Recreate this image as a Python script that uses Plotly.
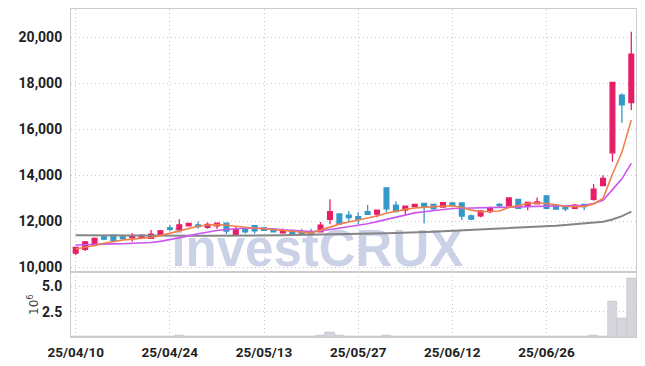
import plotly.graph_objects as go

dates = ["25/04/10", "25/04/11", "25/04/14", "25/04/15", "25/04/16", "25/04/17", "25/04/18",
         "25/04/21", "25/04/22", "25/04/23", "25/04/24", "25/04/25", "25/04/28", "25/04/29",
         "25/04/30", "25/05/02", "25/05/07", "25/05/08", "25/05/09", "25/05/12", "25/05/13",
         "25/05/14", "25/05/15", "25/05/16", "25/05/19", "25/05/20", "25/05/21", "25/05/22",
         "25/05/23", "25/05/26", "25/05/27", "25/05/28", "25/05/29", "25/05/30", "25/06/02",
         "25/06/04", "25/06/05", "25/06/09", "25/06/10", "25/06/11", "25/06/12", "25/06/13",
         "25/06/16", "25/06/17", "25/06/18", "25/06/19", "25/06/20", "25/06/23", "25/06/24",
         "25/06/25", "25/06/26", "25/06/27", "25/06/30", "25/07/01", "25/07/02", "25/07/03",
         "25/07/04", "25/07/07", "25/07/08", "25/07/09"]

open_ = [10620, 10780, 10970, 11330, 11400, 11320, 11290, 11300, 11260, 11435,
         11720, 11650, 11800, 11850, 11740, 11810, 11920, 11435, 11640, 11810,
         11720, 11660, 11500, 11610, 11530, 11530, 11550, 12090, 12320, 12270,
         12200, 12420, 12320, 13460, 12710, 12490, 12640, 12780, 12740, 12620,
         12800, 12800, 12240, 12240, 12420, 12740, 12670, 12950, 12680, 12760,
         13110, 12710, 12680, 12570, 12740, 12960, 13550, 14980, 17490, 17160]
high = [10900, 11150, 11300, 11380, 11420, 11360, 11500, 11440, 11620, 11620,
        11850, 12090, 11930, 11990, 11950, 11930, 11930, 11800, 11660, 11830,
        11740, 11690, 11690, 11620, 11680, 11680, 11970, 12960, 12330, 12450,
        12400, 12710, 12500, 13470, 12870, 12670, 12750, 12800, 12760, 12820,
        12820, 12810, 12300, 12470, 12650, 12800, 13030, 12960, 12830, 13040,
        13120, 12720, 12690, 12750, 12760, 13620, 14000, 18040, 17560, 20240]
low = [10540, 10710, 10920, 11180, 11140, 11200, 11110, 11260, 11240, 11420,
       11560, 11560, 11780, 11680, 11680, 11680, 11450, 11420, 11470, 11470,
       11600, 11520, 11460, 11360, 11420, 11390, 11530, 11880, 11880, 11980,
       11880, 12300, 12180, 12400, 12410, 12310, 12600, 11910, 12500, 12600,
       12640, 12060, 12060, 12180, 12350, 12630, 12660, 12560, 12480, 12740,
       12540, 12520, 12440, 12540, 12480, 12900, 13540, 14590, 16290, 16840]
close = [10870, 11110, 11260, 11230, 11150, 11250, 11360, 11390, 11450, 11590,
         11650, 11850, 11910, 11770, 11870, 11920, 11580, 11650, 11550, 11590,
         11610, 11550, 11580, 11440, 11480, 11480, 11840, 12420, 11890, 12160,
         12090, 12300, 12490, 12540, 12420, 12660, 12740, 12640, 12540, 12810,
         12700, 12230, 12100, 12460, 12560, 12690, 13020, 12570, 12820, 12850,
         12570, 12530, 12540, 12710, 12640, 13400, 13870, 18040, 17060, 19270]

ma5 = [10800, 10870, 10950, 11050, 11130, 11190, 11230, 11270, 11300, 11380,
       11480, 11600, 11700, 11790, 11840, 11860, 11830, 11780, 11740, 11700,
       11680, 11640, 11600, 11560, 11520, 11500, 11620, 11760, 11880, 11970,
       12050, 12120, 12230, 12350, 12440, 12520, 12580, 12620, 12640, 12660,
       12680, 12600, 12490, 12420, 12420, 12450, 12600, 12700, 12780, 12800,
       12780, 12720, 12660, 12640, 12650, 12760, 13000, 14050, 15000, 16400]
ma20 = [10970, 10990, 11000, 11010, 11020, 11030, 11040, 11050, 11080, 11130,
        11200, 11280, 11370, 11460, 11540, 11600, 11650, 11690, 11700, 11700,
        11690, 11670, 11630, 11600, 11570, 11560, 11580, 11640, 11700, 11760,
        11820, 11900, 11990, 12090, 12190, 12280, 12370, 12420, 12470, 12520,
        12560, 12570, 12580, 12600, 12620, 12630, 12640, 12650, 12650, 12650,
        12660, 12660, 12670, 12680, 12700, 12780, 12920, 13380, 13850, 14520]
ma_long = [11400, 11395, 11390, 11385, 11382, 11380, 11378, 11375, 11372, 11370,
           11370, 11370, 11370, 11370, 11370, 11370, 11372, 11374, 11376, 11380,
           11390, 11395, 11400, 11405, 11410, 11420, 11428, 11436, 11444, 11452,
           11460, 11468, 11476, 11484, 11492, 11500, 11515, 11530, 11550, 11570,
           11590, 11605, 11620, 11640, 11650, 11660, 11685, 11710, 11735, 11760,
           11780, 11810, 11840, 11870, 11900, 11930, 11980, 12080, 12230, 12420]

volume_m = [0.03, 0.03, 0.03, 0.02, 0.03, 0.02, 0.03, 0.02, 0.03, 0.03,
            0.04, 0.12, 0.03, 0.02, 0.02, 0.02, 0.03, 0.02, 0.02, 0.02,
            0.02, 0.02, 0.02, 0.02, 0.02, 0.02, 0.12, 0.50, 0.12, 0.04,
            0.03, 0.10, 0.04, 0.12, 0.03, 0.03, 0.10, 0.04, 0.03, 0.03,
            0.03, 0.10, 0.03, 0.03, 0.02, 0.03, 0.10, 0.03, 0.10, 0.10,
            0.03, 0.03, 0.02, 0.02, 0.03, 0.20, 0.06, 3.54, 1.79, 5.78]

price_ticks = [10000, 12000, 14000, 16000, 18000, 20000]
vol_ticks = [2.5, 5.0]
date_ticks = [dates[i] for i in (0, 10, 20, 30, 40, 50)]

RED = "#e61e68"
BLUE = "#3498c8"
GRID = "#c6c6dc"
GRID_DASH = "1px,3px"
FRAME = "#cccccc"
FONT = "Roboto, sans-serif"

fig = go.Figure()

fig.add_trace(go.Scatter(
    x=[0.436], y=[0.255], mode="text", text=["investCRUX"],
    textfont=dict(size=51, color="#cbd2e8", family="Liberation Sans, Arial, sans-serif", weight="bold"),
    xaxis="x", yaxis="y", hoverinfo="skip", showlegend=False, cliponaxis=False))

fig.add_trace(go.Bar(
    x=dates, y=volume_m, xaxis="x3", yaxis="y3", showlegend=False,
    marker=dict(color="#d5d5db", line=dict(color="#c3c3cb", width=0.6))))

fig.add_trace(go.Candlestick(
    x=dates, open=open_, high=high, low=low, close=close,
    xaxis="x2", yaxis="y2", showlegend=False, whiskerwidth=0,
    increasing=dict(fillcolor=RED, line=dict(color=RED, width=1.3)),
    decreasing=dict(fillcolor=BLUE, line=dict(color=BLUE, width=1.3))))

for series, color, width in ((ma_long, "#858585", 2.0), (ma20, "#cc55ee", 1.6), (ma5, "#ef7f4c", 1.6)):
    fig.add_trace(go.Scatter(x=dates, y=series, mode="lines", xaxis="x2", yaxis="y2",
                             line=dict(color=color, width=width), showlegend=False, hoverinfo="skip"))

yfont = dict(family=FONT, size=14, color="#1e1e1e", weight="bold")
xfont = dict(family=FONT, size=13.5, color="#1e1e1e", weight="bold")
common_x = dict(type="category", range=[-0.5, 59.5], tickvals=date_ticks, ticktext=date_ticks,
                showgrid=True, gridcolor=GRID, griddash=GRID_DASH, gridwidth=1, automargin=False,
                showline=True, linecolor=FRAME, linewidth=1, mirror=True, zeroline=False,
                ticks="outside", ticklen=3, tickcolor="rgba(0,0,0,0)", tickfont=xfont)

fig.update_layout(
    width=645, height=366,
    margin=dict(l=71, r=9, t=9, b=29),
    paper_bgcolor="white", plot_bgcolor="rgba(0,0,0,0)",
    bargap=0, boxgap=0.28,
    xaxis=dict(domain=[0, 1], range=[0, 1], visible=False),
    yaxis=dict(domain=[0, 1], range=[0, 1], visible=False),
    xaxis2=dict(common_x, anchor="y2", matches="x3", showticklabels=False,
                rangeslider=dict(visible=False)),
    yaxis2=dict(domain=[0.197, 1], range=[9783, 21230], tickvals=price_ticks, tickformat=",",
                showgrid=True, gridcolor=GRID, griddash=GRID_DASH, gridwidth=1, automargin=False,
                showline=True, linecolor=FRAME, mirror=True, zeroline=False, anchor="x2",
                ticks="outside", ticklen=5, tickcolor="rgba(0,0,0,0)", tickfont=yfont),
    xaxis3=dict(common_x, anchor="y3"),
    yaxis3=dict(domain=[0, 0.197], range=[0, 6.36], tickvals=vol_ticks, tickformat=".1f",
                showgrid=True, gridcolor=GRID, griddash=GRID_DASH, gridwidth=1, automargin=False,
                showline=True, linecolor=FRAME, mirror=True, zeroline=False, anchor="x3",
                ticks="outside", ticklen=5, tickcolor="rgba(0,0,0,0)", tickfont=yfont,
                title=dict(text="10<sup>6</sup>", standoff=0,
                           font=dict(family="DejaVu Sans, sans-serif", size=12, color="#444444"))),
)

fig.write_html("out.html", config={"displayModeBar": False},
               post_script="document.body.style.margin='0';")
